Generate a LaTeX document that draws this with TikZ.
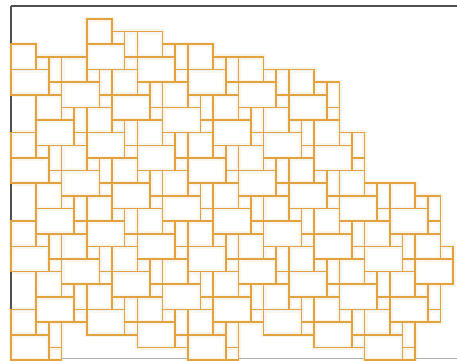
\documentclass[tikz,border=0pt]{standalone}
\definecolor{tileedge}{RGB}{228,162,62}
\definecolor{tileglow}{RGB}{242,246,246}
\definecolor{tileinner}{RGB}{251,246,230}
\definecolor{halocol}{RGB}{247,244,234}
\definecolor{framecol}{RGB}{78,80,80}
\definecolor{framebot}{RGB}{175,175,175}
\tikzset{
  tileline/.style={draw=tileedge, line width=1.6pt},
  tilefill/.style={fill=tileglow},
  tilecore/.style={fill=white, draw=tileinner, line width=0.4pt},
  halo/.style={draw=halocol, line width=5pt},
  frameline/.style={draw=framecol, line width=1.4pt},
}
% top row limit per column
\def\Tof#1{\ifcase\numexpr#1\relax 2\or2\or3\or3\or3\or3\or0\or0\or1\or1\or1\or1\or2\or2\or2\or2\or3\or3\or3\or3\or4\or4\or4\or4\or5\or5\or9\or9\or13\or13\or13\or13\or14\or14\or18\else99\fi}
% bottom row limit (exclusive) per column
\def\Bof#1{\ifcase\numexpr#1\relax 27\or27\or27\or27\or24\or24\or25\or25\or25\or25\or26\or26\or26\or26\or27\or27\or27\or27\or24\or24\or25\or25\or25\or25\or26\or26\or26\or26\else27\fi}
% right column limit (exclusive) per row
\def\Rof#1{\ifnum\numexpr#1\relax<21 35\else\ifnum\numexpr#1\relax<24 34\else32\fi\fi}
\newif\iftileok
\def\tilemode{0}
\newcommand\drawtile[4]{%
  \pgfmathsetmacro\xa{11+12.63*#1}%
  \pgfmathsetmacro\ya{19+12.63*#2}%
  \pgfmathsetmacro\xb{\xa+12.63*#3}%
  \pgfmathsetmacro\yb{\ya+12.63*#4}%
  \ifcase\tilemode\relax
    \path[halo] (\xa,\ya) rectangle (\xb,\yb);
  \or
    \path[tilefill] (\xa,\ya) rectangle (\xb,\yb);
    \path[tilecore] (\xa+2.2,\ya+2.2) rectangle (\xb-2.2,\yb-2.2);
  \else
    \path[tileline] (\xa,\ya) rectangle (\xb,\yb);
  \fi
}
\newcommand\chkc[3]{%
  \ifnum#2<\Tof{#1}\relax\tileokfalse\fi
  \ifnum\numexpr#2+#3\relax>\Bof{#1}\relax\tileokfalse\fi}
\newcommand\chkr[2]{%
  \ifnum\numexpr#2\relax>\Rof{#1}\relax\tileokfalse\fi}
\newcommand\checktile[5]{%
  \tileoktrue
  \ifnum#5=1 \ifnum#1<2 \tileokfalse\fi\fi
  \chkc{#1}{#2}{#4}%
  \ifnum#3>1 \chkc{#1+1}{#2}{#4}\fi
  \ifnum#3>2 \chkc{#1+2}{#2}{#4}\fi
  \chkr{#2}{#1+#3}%
  \ifnum#4>1 \chkr{#2+1}{#1+#3}\fi
  \iftileok\drawtile{#1}{#2}{#3}{#4}\fi}
\newcommand\trytile[5]{%
  \ifnum#1<0 \else\ifnum#1>36 \else\ifnum#2<0 \else\ifnum#2>30 \else
    \checktile{#1}{#2}{#3}{#4}{#5}%
  \fi\fi\fi\fi}
\newcommand\alltiles{%
  \foreach \ia in {-3,...,12}{
    \foreach \ib in {-7,...,8}{
      \edef\ox{\the\numexpr 2+4*(\ia)-2*(\ib)\relax}%
      \edef\oy{\the\numexpr 8+(\ia)+3*(\ib)\relax}%
      \edef\oyb{\the\numexpr\oy+2\relax}%
      \edef\oyc{\the\numexpr\oy+4\relax}%
      \edef\oxb{\the\numexpr\ox+1\relax}%
      \edef\oxc{\the\numexpr\ox+2\relax}%
      \trytile{\ox}{\oy}{3}{2}{0}%
      \trytile{\ox}{\oyb}{1}{1}{1}%
      \trytile{\oxb}{\oyb}{1}{2}{1}%
      \trytile{\oxc}{\oyb}{2}{2}{0}%
      \trytile{\oxb}{\oyc}{1}{1}{1}%
    }
  }}
\begin{document}
\begin{tikzpicture}[x=1pt,y=-1pt]
  \useasboundingbox (0,0) rectangle (457,360);
  \fill[white] (0,0) rectangle (457,360);
  \def\tilemode{0}\alltiles
  \path[frameline] (11,6) -- (460,6);
  \path[frameline] (11,6) -- (11,358.5);
  \path[draw=framebot, line width=1pt] (11,358.5) -- (460,358.5);
  \def\tilemode{1}\alltiles
  \def\tilemode{2}\alltiles
\end{tikzpicture}
\end{document}
